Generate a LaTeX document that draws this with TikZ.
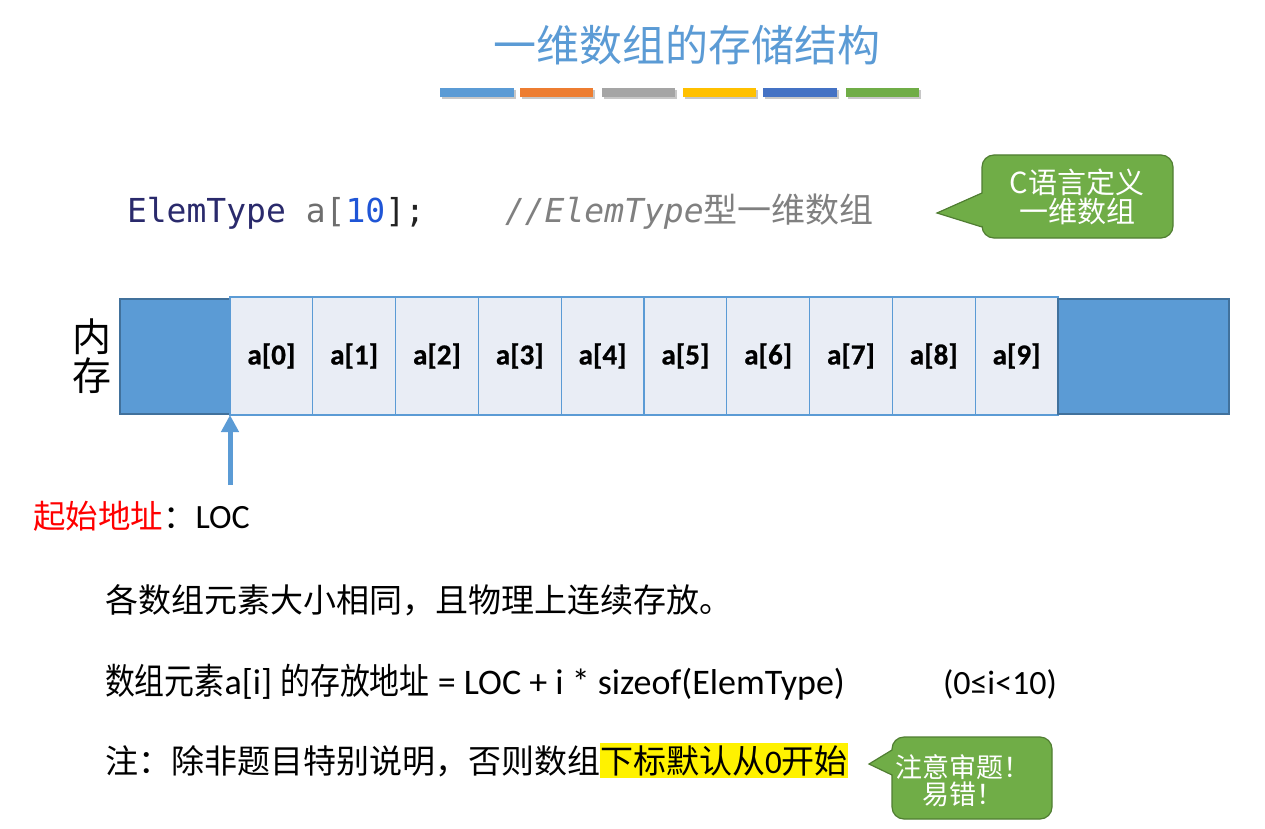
\documentclass[tikz,border=0pt]{standalone}
\usepackage{fontspec}
\setmainfont{Carlito}[BoldFont={Carlito Bold}]
\newfontfamily\cellfont{Carlito}[BoldFeatures={FakeBold=0.8}]
\newfontfamily\cjk{Noto Sans CJK SC}
\newfontfamily\cjknarrow[FakeStretch=0.83]{Noto Sans CJK SC}
\newfontfamily\codefont{DejaVu Sans Mono}
\usetikzlibrary{arrows.meta}

\definecolor{accent}{HTML}{5B9BD5}
\definecolor{accentdark}{HTML}{41719C}
\definecolor{barorange}{HTML}{ED7D31}
\definecolor{bargray}{HTML}{A5A5A5}
\definecolor{bargold}{HTML}{FFC000}
\definecolor{barblue}{HTML}{4472C4}
\definecolor{bargreen}{HTML}{70AD47}
\definecolor{calloutedge}{HTML}{507E32}
\definecolor{cellfill}{HTML}{E9EDF5}
\definecolor{codenavy}{HTML}{2A2A6C}
\definecolor{codegray}{HTML}{6E6E6E}
\definecolor{codeblue}{HTML}{1F55D6}
\definecolor{codedark}{HTML}{222222}
\definecolor{commentgray}{HTML}{808080}

\newcommand{\fsz}[1]{\fontsize{#1}{#1}\selectfont}

\tikzset{
  plain/.style={inner sep=0pt, outer sep=0pt},
  barshadow/.style={fill=black, opacity=0.22},
  memblock/.style={plain, draw=accentdark, line width=1.2pt, fill=accent,
    minimum height=115pt},
  cell/.style={plain, draw=accent, line width=1.2pt, fill=cellfill,
    minimum width=82.8pt, minimum height=118pt,
    font=\cellfont\bfseries\fsz{29}},
  callout/.style={fill=bargreen, draw=calloutedge, line width=1.2pt},
  callouttext/.style={plain, text=white, align=center},
  locarrow/.style={draw=accent, line width=5pt,
    -{Triangle[width=17pt,length=17pt]}},
  bodytext/.style={plain, anchor=base west},
}

\begin{document}
\begin{tikzpicture}[x=1pt,y=-1pt]
\useasboundingbox[fill=white] (0,0) rectangle (1265,829);

% heading
\node[plain, text=accent, font=\cjk\fsz{43}] (title) at (687,45) {一维数组的存储结构};

% coloured rule under the heading
\foreach \xa/\xb/\col in {440/514/accent, 520/593/barorange,
    602/675/bargray, 683/756/bargold, 763/837/barblue, 846/919/bargreen}{
  \fill[barshadow] (\xa+1.5,90.5) rectangle (\xb+1.5,99.5);
  \fill[\col] (\xa,88) rectangle (\xb,97);
}

% declaration line
\node[bodytext, font=\codefont\fsz{33}] (decl) at (127,222)
  {\textcolor{codenavy}{ElemType} \textcolor{codegray}{a[}\textcolor{codeblue}{10}\textcolor{codedark}{];}};
\node[bodytext, text=commentgray, font=\fsz{33}] (comment) at (505,222)
  {{\codefont\itshape //ElemType}{\cjk\fontsize{34}{34}\selectfont 型一维数组}};

% callout: C definition
\draw[callout] (982,193) [rounded corners=12pt] -- (982,155) -- (1173,155)
  -- (1173,238) -- (982,238) [sharp corners] -- (982,227) -- (937,213) -- cycle;
\node[callouttext, font=\cjk\fsz{29}] (ctext) at (1077,197)
  {\fontsize{29}{35}\selectfont C语言定义\\一维数组};

% memory strip
\node[memblock, anchor=north west, minimum width=110pt] (memleft) at (120,299) {};
\foreach \i in {0,...,9}{
  \node[cell, anchor=north west] (c\i) at (230+82.8*\i,297) {a[\i]};
}
\node[memblock, anchor=north west, minimum width=171pt] (memright) at (1058,299) {};

\node[plain, align=center, font=\cjk\fsz{39}] (memlabel) at (92,356)
  {\fontsize{39}{45}\selectfont 内\\存};

% start address marker
\coordinate (locfoot) at (230,485);
\draw[locarrow] (locfoot) -- (c0.south west);
\node[bodytext, font=\fsz{32.5}] (loc) at (33,528)
  {\textcolor{red}{\cjk 起始地址}{\cjk ：}{\fontsize{34}{34}\selectfont LOC}};

% notes
\node[bodytext, font=\cjk\fsz{33}] (note1) at (105,612)
  {各数组元素大小相同，且物理上连续存放。};
\node[bodytext, font=\fsz{36}] (note2) at (105,694)
  {{\cjknarrow 数组元素}a[i] {\cjknarrow 的存放地址} = LOC + i * sizeof(ElemType)};
\node[bodytext, font=\fsz{34}] (range) at (943,694) {(0≤i<10)};

\node[bodytext, font=\cjk\fsz{33}] (note3a) at (105,773)
  {注：除非题目特别说明，否则数组};
\node[plain, anchor=base west, fill=yellow, inner ysep=2.5pt, font=\fsz{33}]
  (note3b) at (note3a.base east) {{\cjk 下标默认从}0{\cjk 开始}};

% callout: pay attention
\draw[callout] (892,750) [rounded corners=12pt] -- (892,737) -- (1052,737)
  -- (1052,819) -- (892,819) [sharp corners] -- (892,775) -- (869,764) -- cycle;
\node[callouttext, font=\cjk\fsz{27}] (ntext) at (963,781)
  {\fontsize{27}{32}\selectfont 注意审题！\\易错！};

\end{tikzpicture}
\end{document}
